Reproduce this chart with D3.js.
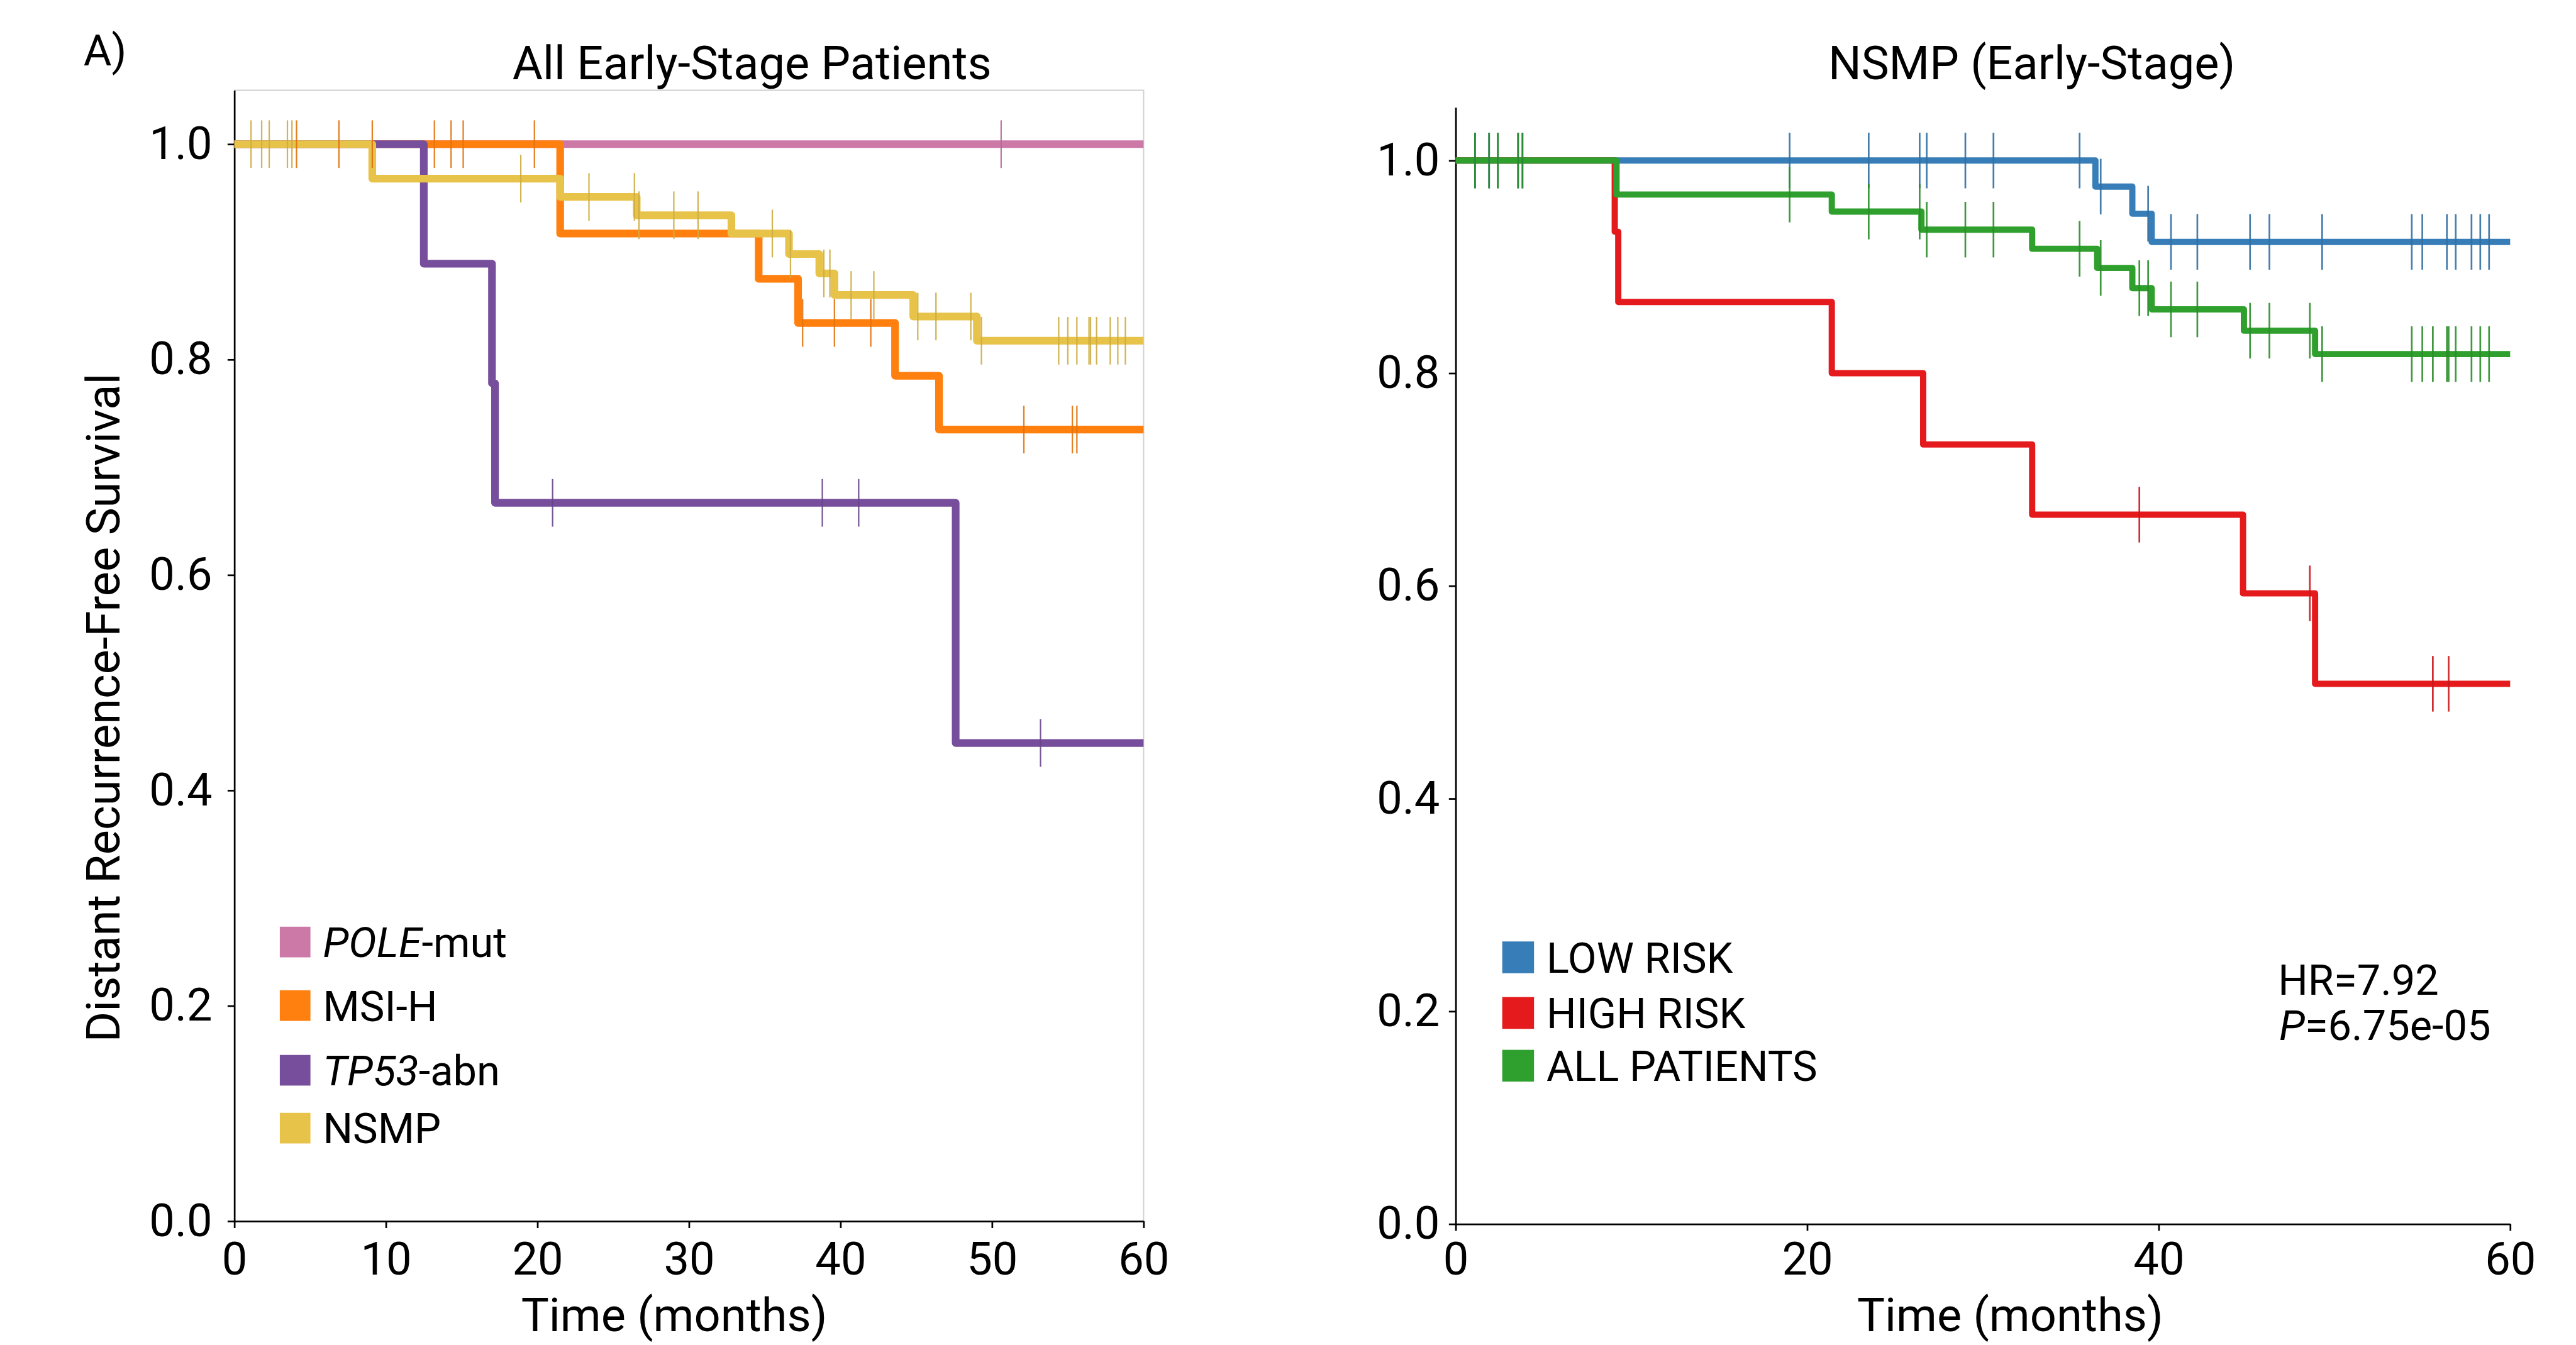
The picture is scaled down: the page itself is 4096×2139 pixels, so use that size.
<!DOCTYPE html>
<html>
<head>
<meta charset="utf-8">
<script src="https://cdn.jsdelivr.net/npm/d3@7"></script>
<style>
  html, body { margin: 0; background: #fff; }
  svg { display: block; }
  text { font-family: Roboto, "Noto Sans", sans-serif; fill: #000; }
</style>
</head>
<body>
<svg id="chart"></svg>
<script>
/* Two Kaplan-Meier panels: molecular subgroups (left), NSMP risk split (right).
   Drawn in reference pixel space, the viewBox shrinks it to the window. */

// ---- data (months, survival) ----
var yTicks = [0, 0.2, 0.4, 0.6, 0.8, 1.0];
var xTicksLeft = [0, 10, 20, 30, 40, 50, 60];
var xTicksRight = [0, 20, 40, 60];

var poleTimes = [0, 60];
var poleSurv = [1, 1];
var poleCensor = [50.6];

var msiTimes = [0, 21.5, 34.6, 37.2, 43.6, 46.5, 60];
var msiSurv = [1, 0.917, 0.875, 0.834, 0.785, 0.735, 0.735];
var msiCensor = [4.1, 6.9, 9.1, 13.2, 14.3, 15.1, 19.8, 37.5, 39.6, 42.0, 52.1, 55.3, 55.6];

var tp53Times = [0, 12.5, 17.0, 17.2, 47.6, 60];
var tp53Surv = [1, 0.889, 0.778, 0.667, 0.444, 0.444];
var tp53Censor = [21.0, 38.8, 41.2, 53.2];

var nsmpTimes = [0, 9.1, 21.5, 26.55, 32.8, 36.6, 38.6, 39.6, 44.8, 49.0, 60];
var nsmpSurv = [1, 0.968, 0.951, 0.934, 0.917, 0.898, 0.880, 0.860, 0.840, 0.8175, 0.8175];
var nsmpCensor = [1.1, 1.8, 2.3, 3.5, 3.8, 18.9, 23.4, 26.4, 26.7, 29.0, 30.6, 35.5, 36.7, 38.9,
                  39.3, 40.7, 42.2, 45.1, 46.3, 48.6, 49.3, 54.4, 55.0, 55.6, 56.4, 56.5, 56.9,
                  57.8, 58.3, 58.8];

var lowTimes = [0, 36.4, 38.5, 39.6, 60];
var lowSurv = [1, 0.9755, 0.950, 0.9235, 0.9235];
var lowCensor = [1.1, 1.9, 2.4, 3.55, 3.8, 19.0, 23.5, 26.4, 26.8, 29.0, 30.6, 35.5, 36.7, 39.4,
                 40.7, 42.2, 45.2, 46.3, 49.3, 54.4, 55.0, 56.4, 56.9, 57.8, 58.3, 58.8];

var highTimes = [0, 9.05, 9.25, 21.4, 26.6, 32.8, 44.8, 48.9, 60];
var highSurv = [1, 0.933, 0.867, 0.800, 0.733, 0.667, 0.593, 0.508, 0.508];
var highCensor = [38.9, 48.6, 55.6, 56.5];

var allTimes = [0, 9.15, 21.4, 26.5, 32.8, 36.5, 38.5, 39.6, 44.85, 48.9, 60];
var allSurv = [1, 0.968, 0.952, 0.935, 0.917, 0.899, 0.880, 0.860, 0.840, 0.818, 0.818];
var allCensor = [1.1, 1.9, 2.4, 3.55, 3.8, 19.0, 23.5, 26.4, 26.8, 29.0, 30.6, 35.5, 36.7, 38.9,
                 39.4, 40.7, 42.2, 45.2, 46.3, 48.6, 49.3, 54.4, 55.0, 55.6, 56.4, 56.5, 56.9,
                 57.8, 58.3, 58.8];

var leftLabels = [["POLE", "-mut"], ["", "MSI-H"], ["TP53", "-abn"], ["", "NSMP"]];
var rightLabels = [["", "LOW RISK"], ["", "HIGH RISK"], ["", "ALL PATIENTS"]];

var W = 4539, H = 2370;
var svg = d3.select("#chart")
  .attr("width", 4096).attr("height", 2139)
  .attr("viewBox", "0 0 " + W + " " + H);

function survAt(times, surv, t) {
  var v = surv[0];
  for (var i = 0; i < times.length; i++) if (times[i] <= t) v = surv[i];
  return v;
}

function text(x, y, str, size, anchor) {
  return svg.append("text").attr("x", x).attr("y", y)
    .attr("font-size", size).attr("text-anchor", anchor || "start").text(str);
}

function panel(cfg) {
  var x = d3.scaleLinear().domain([0, 60]).range([cfg.x0, cfg.x1]);
  var y = d3.scaleLinear().domain([0, 1.05]).range([cfg.yb, cfg.yt]);
  var g = svg.append("g");

  if (cfg.frame) {
    g.append("path")
      .attr("d", "M" + cfg.x0 + "," + cfg.yt + "H" + cfg.x1 + "V" + cfg.yb)
      .attr("fill", "none").attr("stroke", "#d4d4d4").attr("stroke-width", 2.5);
  }

  var ya = g.append("g").attr("transform", "translate(" + cfg.x0 + ",0)")
    .call(d3.axisLeft(y).tickValues(yTicks).tickFormat(d3.format(".1f"))
      .tickSize(12).tickSizeOuter(0).tickPadding(cfg.yPad));
  var xa = g.append("g").attr("transform", "translate(0," + cfg.yb + ")")
    .call(d3.axisBottom(x).tickValues(cfg.xTicks).tickFormat(d3.format("d"))
      .tickSize(12).tickSizeOuter(0).tickPadding(cfg.xPad));
  [ya, xa].forEach(function (a) {
    a.attr("font-size", 80).attr("font-family", "Roboto, sans-serif");
    a.select(".domain").attr("stroke", "#000").attr("stroke-width", 3);
    a.selectAll(".tick line").attr("stroke", "#000").attr("stroke-width", 3);
    a.selectAll(".tick text").attr("fill", "#000");
  });

  var line = d3.line().curve(d3.curveStepAfter)
    .x(function (d) { return x(d[0]); }).y(function (d) { return y(d[1]); });

  cfg.series.forEach(function (s) {
    g.append("path").datum(d3.zip(s.t, s.s)).attr("d", line)
      .attr("fill", "none").attr("stroke", s.color)
      .attr("stroke-width", cfg.lw).attr("stroke-linejoin", "round");
  });
  cfg.series.forEach(function (s) {
    var tc = d3.color(s.color).darker(0.35).formatHex();
    g.selectAll(null).data(s.c).enter().append("line")
      .attr("x1", function (d) { return x(d); }).attr("x2", function (d) { return x(d); })
      .attr("y1", function (d) { return y(survAt(s.t, s.s, d)) - cfg.th; })
      .attr("y2", function (d) { return y(survAt(s.t, s.s, d)) + cfg.th; })
      .attr("stroke", tc).attr("stroke-width", cfg.tw).attr("stroke-opacity", 0.9);
  });

  // legend
  cfg.legend.forEach(function (lab, i) {
    var cy = cfg.legY[i];
    g.append("rect").attr("x", cfg.legX).attr("y", cy - cfg.sq / 2)
      .attr("width", cfg.sq).attr("height", cfg.sq).attr("fill", cfg.series[cfg.legOrder[i]].color);
    var t = g.append("text").attr("x", cfg.legX + cfg.sq + 22).attr("y", cy + 27)
      .attr("font-size", 74);
    if (lab[0]) t.append("tspan").attr("font-style", "italic").text(lab[0]);
    t.append("tspan").text(lab[1]);
  });
}

// left panel: draw order pink, orange, purple, yellow
panel({
  x0: 413, x1: 2015, yt: 159, yb: 2152, frame: true, xTicks: xTicksLeft,
  yPad: 27, xPad: 25, lw: 13.5, th: 42, tw: 2.5,
  series: [
    { t: poleTimes, s: poleSurv, c: poleCensor, color: "#CC79A7" },
    { t: msiTimes, s: msiSurv, c: msiCensor, color: "#FF800E" },
    { t: tp53Times, s: tp53Surv, c: tp53Censor, color: "#764E9B" },
    { t: nsmpTimes, s: nsmpSurv, c: nsmpCensor, color: "#E8C34A" }
  ],
  legend: leftLabels, legOrder: [0, 1, 2, 3],
  legX: 493, sq: 54, legY: [1660, 1772, 1886, 1988]
});

// right panel: blue, red, green on top
panel({
  x0: 2565, x1: 4423, yt: 189, yb: 2157, frame: false, xTicks: xTicksRight,
  yPad: 16, xPad: 20, lw: 11, th: 49, tw: 3,
  series: [
    { t: lowTimes, s: lowSurv, c: lowCensor, color: "#377EB8" },
    { t: highTimes, s: highSurv, c: highCensor, color: "#E41A1C" },
    { t: allTimes, s: allSurv, c: allCensor, color: "#2FA02D" }
  ],
  legend: rightLabels, legOrder: [0, 1, 2],
  legX: 2647, sq: 56, legY: [1687, 1785, 1878]
});

// titles and axis labels
text(147, 115, "A)", 76);
text(1325, 140, "All Early-Stage Patients", 82, "middle");
text(3580, 140, "NSMP (Early-Stage)", 82, "middle");
text(1188, 2346, "Time (months)", 82, "middle");
text(3542, 2346, "Time (months)", 82, "middle");
svg.append("text").attr("transform", "translate(211,1247) rotate(-90)")
  .attr("font-size", 82).attr("text-anchor", "middle")
  .text("Distant Recurrence-Free Survival");

text(4014, 1753, "HR=7.92", 74);
var p = text(4016, 1833, "", 74);
p.append("tspan").attr("font-style", "italic").text("P");
p.append("tspan").text("=6.75e-05");
</script>
</body>
</html>
